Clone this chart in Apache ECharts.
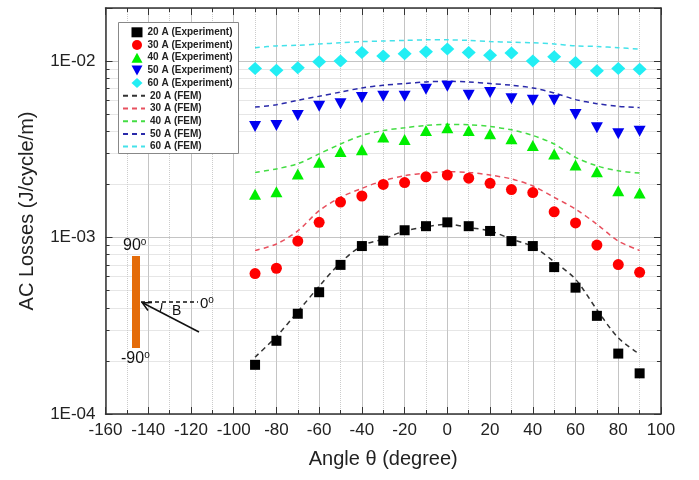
<!DOCTYPE html>
<html><head><meta charset="utf-8">
<script src="https://cdn.jsdelivr.net/npm/echarts@6/dist/echarts.min.js"></script>
<style>html,body{margin:0;padding:0;background:#fff}#c{width:699px;height:480px}</style>
</head><body><div id="c"></div>
<script>
// ---- data ----
const angles = [-90,-80,-70,-60,-50,-40,-30,-20,-10,0,10,20,30,40,50,60,70,80,90];
const exp20 = [1.9e-4,2.6e-4,3.7e-4,4.9e-4,7.0e-4,8.95e-4,9.6e-4,1.1e-3,1.16e-3,1.22e-3,1.16e-3,1.09e-3,9.55e-4,8.95e-4,6.8e-4,5.2e-4,3.6e-4,2.2e-4,1.7e-4];
const exp30 = [6.25e-4,6.7e-4,9.55e-4,1.22e-3,1.59e-3,1.72e-3,2.0e-3,2.05e-3,2.21e-3,2.26e-3,2.17e-3,2.03e-3,1.87e-3,1.8e-3,1.4e-3,1.21e-3,9.06e-4,7.03e-4,6.35e-4];
const exp40 = [1.76e-3,1.82e-3,2.29e-3,2.67e-3,3.07e-3,3.15e-3,3.71e-3,3.59e-3,4.04e-3,4.19e-3,4.04e-3,3.87e-3,3.63e-3,3.32e-3,2.98e-3,2.58e-3,2.36e-3,1.84e-3,1.79e-3];
const exp50 = [4.26e-3,4.32e-3,4.92e-3,5.54e-3,5.74e-3,6.21e-3,6.32e-3,6.32e-3,6.93e-3,7.21e-3,6.4e-3,6.63e-3,6.12e-3,6.0e-3,6.0e-3,4.99e-3,4.19e-3,3.87e-3,4.01e-3];
const exp60 = [9.08e-3,8.89e-3,9.16e-3,9.91e-3,1.0e-2,1.12e-2,1.07e-2,1.1e-2,1.13e-2,1.17e-2,1.12e-2,1.08e-2,1.11e-2,1.0e-2,1.06e-2,9.83e-3,8.81e-3,9.08e-3,9.0e-3];
const fem20 = [2.1e-4,2.75e-4,3.8e-4,5.3e-4,7.2e-4,9.0e-4,9.8e-4,1.09e-3,1.15e-3,1.19e-3,1.14e-3,1.09e-3,9.8e-4,8.9e-4,7.3e-4,5.8e-4,3.9e-4,2.7e-4,2.18e-4];
const fem30 = [8.45e-4,9.2e-4,1.09e-3,1.42e-3,1.69e-3,1.9e-3,2.1e-3,2.24e-3,2.32e-3,2.36e-3,2.34e-3,2.26e-3,2.15e-3,1.96e-3,1.69e-3,1.45e-3,1.19e-3,9.55e-4,8.45e-4];
const fem40 = [2.34e-3,2.45e-3,2.62e-3,2.98e-3,3.39e-3,3.79e-3,4.04e-3,4.19e-3,4.32e-3,4.38e-3,4.36e-3,4.26e-3,4.08e-3,3.79e-3,3.39e-3,2.85e-3,2.55e-3,2.39e-3,2.32e-3];
const fem50 = [5.49e-3,5.66e-3,6.0e-3,6.32e-3,6.68e-3,7.05e-3,7.3e-3,7.46e-3,7.62e-3,7.69e-3,7.62e-3,7.46e-3,7.3e-3,7.05e-3,6.6e-3,6.05e-3,5.74e-3,5.54e-3,5.45e-3];
const fem60 = [1.19e-2,1.22e-2,1.23e-2,1.25e-2,1.27e-2,1.29e-2,1.3e-2,1.31e-2,1.32e-2,1.32e-2,1.31e-2,1.29e-2,1.28e-2,1.27e-2,1.25e-2,1.22e-2,1.21e-2,1.19e-2,1.17e-2];
const expNames = ['20 A (Experiment)','30 A (Experiment)','40 A (Experiment)','50 A (Experiment)','60 A (Experiment)'];
const femNames = ['20 A (FEM)','30 A (FEM)','40 A (FEM)','50 A (FEM)','60 A (FEM)'];
const xTicks = {min:-160, max:100, interval:20};
const yRange = {min:1e-4, max:2e-2};
const yMinor = [2e-4,3e-4,4e-4,5e-4,6e-4,7e-4,8e-4,9e-4,2e-3,3e-3,4e-3,5e-3,6e-3,7e-3,8e-3,9e-3];

// ---- chart ----
const FONT = "'Liberation Sans', Arial, sans-serif";
const pair = arr => angles.map((a,i)=>[a, arr[i]]);
const expStyle = [
  {symbol:'rect', size:10, color:'#000000', rot:0, icon:'rect'},
  {symbol:'circle', size:11, color:'#ff0000', rot:0, icon:'circle'},
  {symbol:'triangle', size:[12,11], color:'#00ee00', rot:0, icon:'triangle'},
  {symbol:'triangle', size:[12,11], color:'#0000f0', rot:180, icon:'path://M0,0 L12,0 L6,11 Z'},
  {symbol:'diamond', size:[14,13], color:'#22eef4', rot:0, icon:'diamond'}
];
const femColors = ['#333333','#e8505e','#44dd44','#2a2aaa','#44e2ea'];
const expData = [exp20,exp30,exp40,exp50,exp60];
const femData = [fem20,fem30,fem40,fem50,fem60];

const tickUnits = 1.9;
const markData = [];
yMinor.forEach(v => {
  markData.push([{coord:[xTicks.min, v], lineStyle:{type:'dotted', color:'#cccccc', width:1}}, {coord:[xTicks.max, v]}]);
});
yMinor.forEach(v => {
  markData.push([{coord:[xTicks.min, v], lineStyle:{type:'solid', color:'#333', width:1}}, {coord:[xTicks.min+tickUnits, v]}]);
  markData.push([{coord:[xTicks.max-tickUnits, v], lineStyle:{type:'solid', color:'#333', width:1}}, {coord:[xTicks.max, v]}]);
});

const series = [];
femData.forEach((d,i)=>{
  const s = {type:'line', name:femNames[i], data:pair(d), symbol:'none', smooth:0.3, z:2,
    lineStyle:{color:femColors[i], width:1.5, type:[5,4]}, itemStyle:{color:femColors[i]}};
  if (i === 0) {
    s.markLine = {silent:true, symbol:['none','none'], label:{show:false}, emphasis:{disabled:true},
      animation:false, z:1, data:markData};
  }
  series.push(s);
});
expData.forEach((d,i)=>{
  const s = expStyle[i];
  series.push({type:'scatter', name:expNames[i], data:pair(d), symbol:s.symbol, symbolSize:s.size,
    symbolRotate:s.rot, z:3, itemStyle:{color:s.color, opacity:1}});
});

const fmtY = v => {
  const e = Math.round(Math.log10(v));
  if (Math.abs(v/Math.pow(10,e) - 1) > 1e-6) return '';
  return '1E-' + String(-e).padStart(2,'0');
};

const axisLineStyle = {show:true, onZero:false, lineStyle:{color:'#333', width:1.5}};
const legendText = {fontFamily:FONT, fontSize:10, fontWeight:'bold', color:'#222', lineHeight:10};
const expLegend = expNames.map((n,i)=>({name:n, icon:expStyle[i].icon}));
const femLegend = femNames.map(n=>({name:n, itemStyle:{opacity:0}}));
const chart = echarts.init(document.getElementById('c'), null, {renderer:'canvas'});
chart.setOption({
  animation:false,
  backgroundColor:'#ffffff',
  grid:{left:105.5, right:38, top:8, bottom:66, containLabel:false},
  legend:[{
    data: expLegend, orient:'vertical', left:131.5, top:27.3, padding:0,
    itemWidth:11, itemHeight:10, itemGap:2.7, textStyle:legendText, z:10, symbolKeepAspect:true
  },{
    data: femLegend, orient:'vertical', left:122, top:90.8, padding:0,
    itemWidth:22, itemHeight:10, itemGap:2.7, textStyle:legendText, z:10
  }],
  xAxis:[{
    type:'value', min:xTicks.min, max:xTicks.max, interval:xTicks.interval,
    name:'Angle \u03b8 (degree)', nameLocation:'middle', nameGap:35,
    nameTextStyle:{fontFamily:FONT, fontSize:20, color:'#222'},
    axisLine:axisLineStyle,
    axisTick:{show:true, inside:true, length:7, lineStyle:{color:'#333'}},
    minorTick:{show:true, splitNumber:2, length:4, lineStyle:{color:'#333'}},
    axisLabel:{fontFamily:FONT, fontSize:17, color:'#222', margin:8},
    splitLine:{show:true, lineStyle:{color:'#c4c4c4', width:1}},
    minorSplitLine:{show:true, lineStyle:{color:'#cccccc', type:'dotted', width:1}}
  },{
    type:'value', position:'top', min:xTicks.min, max:xTicks.max, interval:xTicks.interval,
    axisLine:axisLineStyle,
    axisTick:{show:true, inside:true, length:7, lineStyle:{color:'#333'}},
    minorTick:{show:true, splitNumber:2, length:4, lineStyle:{color:'#333'}},
    axisLabel:{show:false}, splitLine:{show:false}
  }],
  yAxis:[{
    type:'log', logBase:10, min:yRange.min, max:yRange.max,
    name:'AC Losses (J/cycle/m)', nameLocation:'middle', nameGap:68,
    nameTextStyle:{fontFamily:FONT, fontSize:20, color:'#222'},
    axisLine:axisLineStyle,
    axisTick:{show:true, inside:true, length:7, lineStyle:{color:'#333'}},
    axisLabel:{fontFamily:FONT, fontSize:17, color:'#222', margin:10, formatter:fmtY},
    splitLine:{show:true, lineStyle:{color:'#c4c4c4', width:1}}
  },{
    type:'log', logBase:10, min:yRange.min, max:yRange.max, position:'right',
    axisLine:axisLineStyle,
    axisTick:{show:true, inside:true, length:7, lineStyle:{color:'#333'}},
    axisLabel:{show:false}, splitLine:{show:false}
  }],
  series: series,
  graphic:{elements:[
    {type:'rect', shape:{x:118.5, y:22.5, width:120, height:131}, style:{fill:'#ffffff', stroke:'#888', lineWidth:1}, z:5},
    {type:'rect', shape:{x:132, y:256, width:8, height:92}, style:{fill:'#e46c0a'}, z:20},
    {type:'text', x:123, y:237, style:{text:'90{s|o}', font:'16px '+FONT, fill:'#111',
      rich:{s:{fontSize:10, verticalAlign:'top', padding:[0,0,8,0], fontFamily:FONT}}}, z:20},
    {type:'text', x:121, y:350, style:{text:'-90{s|o}', font:'16px '+FONT, fill:'#111',
      rich:{s:{fontSize:10, verticalAlign:'top', padding:[0,0,8,0], fontFamily:FONT}}}, z:20},
    {type:'line', shape:{x1:141, y1:302, x2:198, y2:302}, style:{stroke:'#111', lineWidth:1.5, lineDash:[4,3]}, z:20},
    {type:'text', x:200, y:295, style:{text:'0{s|o}', font:'15px '+FONT, fill:'#111',
      rich:{s:{fontSize:10, verticalAlign:'top', padding:[0,0,7,0], fontFamily:FONT}}}, z:20},
    {type:'line', shape:{x1:199, y1:332, x2:143, y2:303}, style:{stroke:'#111', lineWidth:1.5}, z:20},
    {type:'polyline', shape:{points:[[152,302.5],[142.5,303],[148,310.5]]}, style:{stroke:'#111', lineWidth:1.5, fill:null}, z:20},
    {type:'arc', shape:{cx:142, cy:303, r:20, startAngle:0, endAngle:0.47, clockwise:true}, style:{stroke:'#111', lineWidth:1.2, fill:null}, z:20},
    {type:'text', x:172, y:304, style:{text:'B', font:'14px '+FONT, fill:'#111'}, z:20}
  ]}
});
</script></body></html>
